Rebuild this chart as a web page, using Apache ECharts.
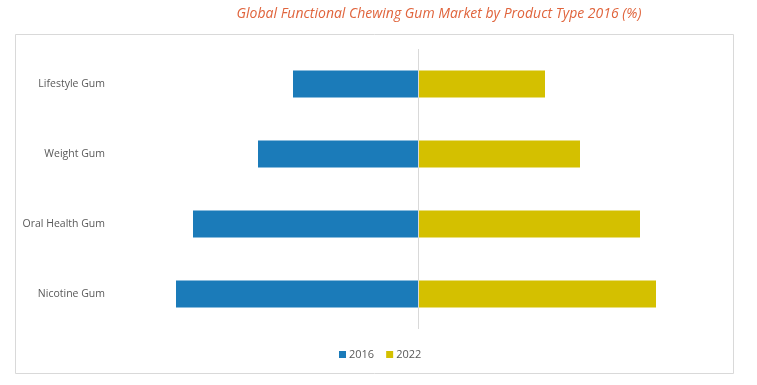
<!DOCTYPE html>
<html>
<head>
<meta charset="utf-8">
<script src="https://cdn.jsdelivr.net/npm/echarts@6/dist/echarts.min.js"></script>
<style>html,body{margin:0;padding:0;background:#fff}#c{width:757px;height:385px}</style>
</head>
<body>
<div id="c"></div>
<script>
var categories = ['Lifestyle Gum', 'Weight Gum', 'Oral Health Gum', 'Nicotine Gum'];
var values2016 = [12.5, 16.0, 22.5, 24.2];
var values2022 = [12.7, 16.2, 22.2, 23.8];
var seriesNames = ['2016', '2022'];

var chart = echarts.init(document.getElementById('c'));
chart.setOption({
  animation: false,
  backgroundColor: '#fff',
  title: {
    text: 'Global Functional Chewing Gum Market by Product Type 2016 (%)',
    left: 434, top: 2, textAlign: 'center',
    textStyle: { fontFamily: 'Open Sans', fontStyle: 'italic', fontWeight: 'normal', fontSize: 14, color: '#e0643c' }
  },
  graphic: [{
    type: 'rect', shape: { x: 15.5, y: 34.5, width: 718, height: 339 },
    style: { fill: 'none', stroke: '#d9d9d9', lineWidth: 1 }, silent: true
  }],
  legend: {
    data: seriesNames, left: 334, top: 344, itemWidth: 7, itemHeight: 7, itemGap: 12,
    icon: 'rect',
    textStyle: { fontFamily: 'Open Sans', fontSize: 11, color: '#595959', padding: [0, 0, 0, -2] }
  },
  grid: { left: 118, right: 39, top: 49, bottom: 56 },
  xAxis: {
    type: 'value', min: -30, max: 30, show: false
  },
  yAxis: {
    type: 'category', data: categories, inverse: true,
    axisLine: { show: false }, axisTick: { show: false },
    axisLabel: { margin: 13, fontFamily: 'Open Sans', fontSize: 10.5, color: '#595959', padding: [2, 0, 0, 0] }
  },
  series: [
    {
      name: '2016', type: 'bar', stack: 'a', barWidth: 27,
      data: values2016.map(function (v) { return -v; }),
      itemStyle: { color: '#1b7bb9' },
      markLine: {
        silent: true, symbol: 'none', label: { show: false },
        lineStyle: { color: '#d9d9d9', type: 'solid', width: 1 },
        data: [{ xAxis: 0 }]
      }
    },
    {
      name: '2022', type: 'bar', stack: 'a', barWidth: 27,
      data: values2022,
      itemStyle: { color: '#d4c000' }
    }
  ]
});
</script>
</body>
</html>
